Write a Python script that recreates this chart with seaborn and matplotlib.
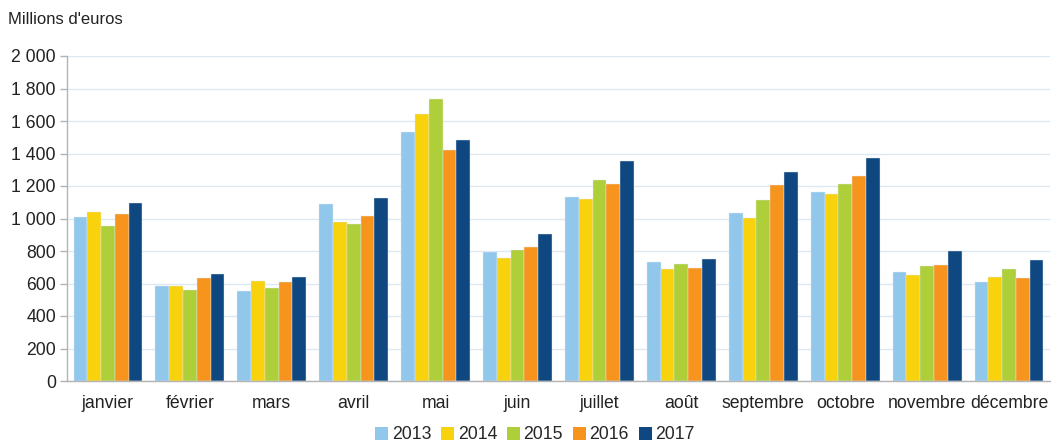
import numpy as np
import pandas as pd
import matplotlib
matplotlib.use("Agg")
import matplotlib.pyplot as plt
import seaborn as sns
from matplotlib.ticker import FuncFormatter, FixedLocator

mois = ['janvier', 'février', 'mars', 'avril', 'mai', 'juin', 'juillet',
        'août', 'septembre', 'octobre', 'novembre', 'décembre']
annees = ['2013', '2014', '2015', '2016', '2017']

v2013 = [1011, 587, 552, 1089, 1530, 794, 1130, 734, 1032, 1161, 673, 607]
v2014 = [1038, 587, 613, 980, 1643, 757, 1120, 691, 1005, 1149, 652, 638]
v2015 = [954, 560, 570, 964, 1733, 804, 1235, 722, 1114, 1210, 705, 687]
v2016 = [1026, 632, 607, 1015, 1421, 822, 1214, 697, 1208, 1259, 712, 636]
v2017 = [1093, 658, 642, 1128, 1481, 903, 1352, 753, 1284, 1370, 802, 747]

couleurs = ['#92c7ec', '#f9d20e', '#aecf3a', '#f7941e', '#0f4780']

# format long pour seaborn
series = [v2013, v2014, v2015, v2016, v2017]
rows = []
for annee, vals in zip(annees, series):
    for m, v in zip(mois, vals):
        rows.append({'Mois': m, 'Annee': annee, 'Valeur': v})
df = pd.DataFrame(rows)

sns.set_style("white")
plt.rcParams['font.family'] = ['Liberation Sans', 'DejaVu Sans']

fig = plt.figure(figsize=(10.51, 4.43), dpi=100)
ax = fig.add_axes([67 / 1051, 1 - 381 / 443, 983 / 1051, 325 / 443])

sns.barplot(data=df, x='Mois', y='Valeur', hue='Annee', palette=couleurs,
            width=0.84, edgecolor='#dfe9f1', linewidth=0.3, ax=ax,
            legend=True, saturation=1)

ax.set_ylim(0, 2000)
ax.set_xlim(-0.5, 11.5)
ax.set_yticks(np.arange(0, 2001, 200))
ax.yaxis.set_major_formatter(FuncFormatter(lambda v, p: f"{int(v):,}".replace(',', ' ')))
ax.yaxis.grid(True, color='#dce9f3', linewidth=1)
ax.set_axisbelow(True)

# ticks aux limites des groupes, étiquettes centrées
ax.tick_params(axis='x', which='major', length=0, pad=10, labelsize=12.7, colors='#222222')
ax.xaxis.set_minor_locator(FixedLocator(np.arange(-0.5, 12, 1)))
ax.tick_params(axis='x', which='minor', length=6, color='#b3b3b3', width=1)
ax.tick_params(axis='y', length=5, width=1, labelsize=12.7, left=True, pad=3,
               colors='#b3b3b3', labelcolor='#222222')

for s in ['top', 'right']:
    ax.spines[s].set_visible(False)
for s in ['left', 'bottom']:
    ax.spines[s].set_color('#b3b3b3')
    ax.spines[s].set_linewidth(1)

ax.set_xlabel('')
ax.set_ylabel('')

fig.text(8 / 1051, 1 - 20 / 443, "Millions d'euros", fontsize=12,
         color='#222222', va='center', ha='left')

leg = ax.legend(loc='center', bbox_to_anchor=(0.476, -0.166), ncol=5, frameon=False,
                fontsize=12.7, handlelength=0.75, handleheight=0.75,
                handletextpad=0.2, columnspacing=0.55, borderaxespad=0, borderpad=0.2)
for h in leg.legend_handles:
    h.set_edgecolor('none')

fig.savefig('out.png', dpi=100)
